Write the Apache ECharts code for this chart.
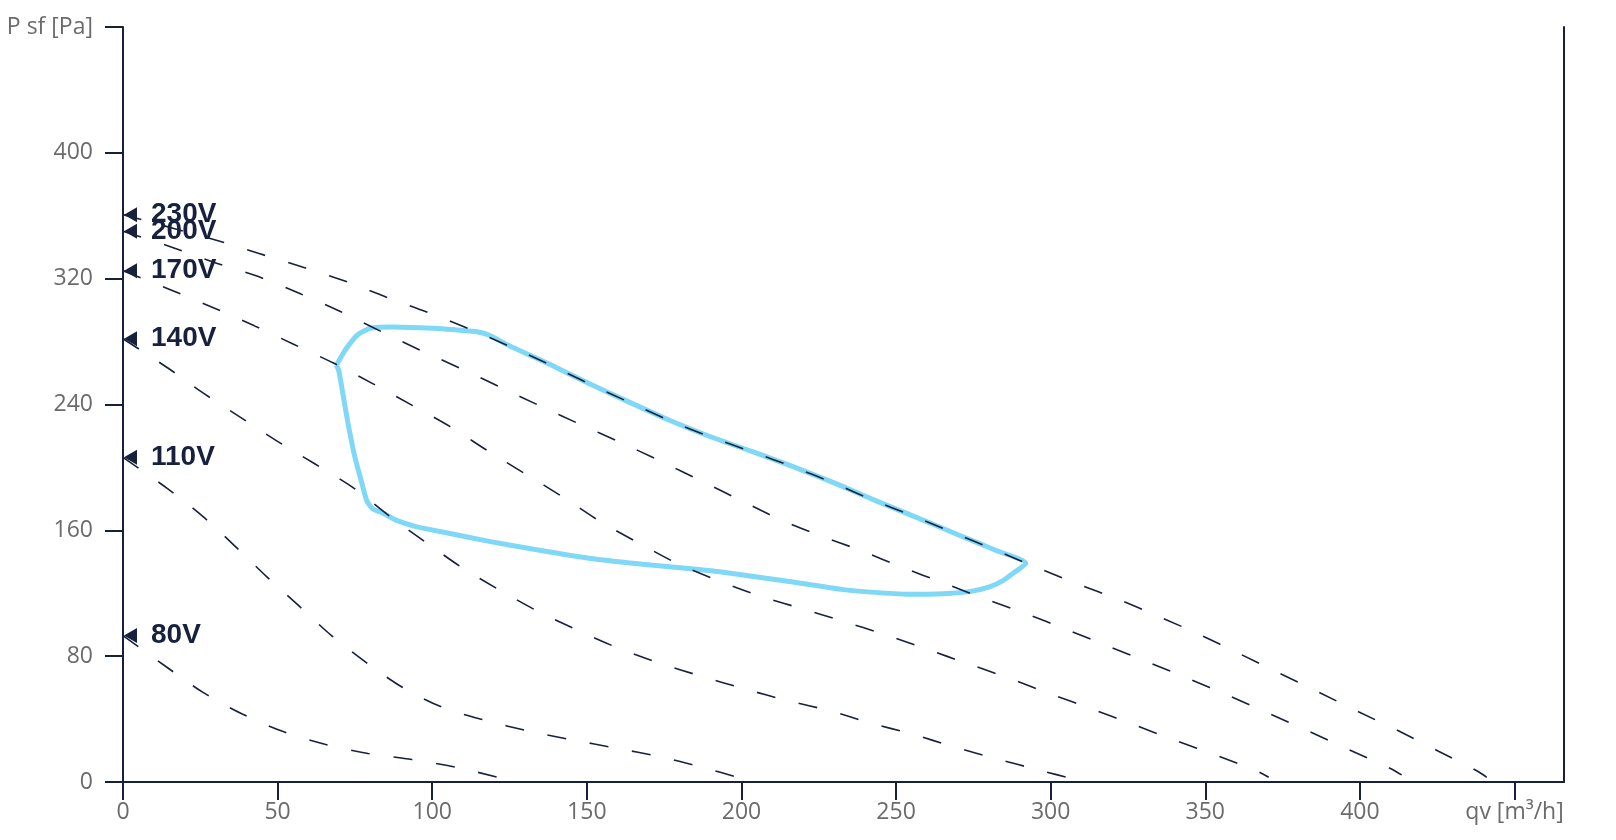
<!DOCTYPE html>
<html>
<head>
<meta charset="utf-8">
<script src="https://cdn.jsdelivr.net/npm/echarts@6/dist/echarts.min.js"></script>
<style>
html,body{margin:0;padding:0;background:#fff;}
#chart{width:1616px;height:840px;}
</style>
</head>
<body>
<div id="chart"></div>
<script>
// ---- data ----
const xTickValues = [0, 50, 100, 150, 200, 250, 300, 350, 400, 450];
const yTickValues = [0, 80, 160, 240, 320, 400, 480];
const xAxisTitle = 'qv [m³/h]';
const yAxisTitle = 'P sf [Pa]';

const voltLabels = ['230V', '200V', '170V', '140V', '110V', '80V'];

const curve230 = [[0,360.7],[31,344],[44,336],[58,327.4],[72,318.3],[85,308.4],[98,299],[112,288],[124.4,277.5],[137.5,265.8],[150.5,253.4],[163.7,241.4],[176.7,229.8],[190,219.3],[203.6,209.8],[216.7,200.3],[230.2,189.8],[241.5,180],[255,169.5],[268.5,158.5],[282,147.5],[295,136.8],[308.4,126.2],[321.6,116.3],[335.2,105],[348.2,93.7],[361,81.6],[373.8,69.3],[386.6,57.2],[399.7,44.5],[412.6,32.4],[425.4,19.6],[438.2,6.7],[441,3]];
const curve200 = [[0,350.1],[16.7,339.4],[30.5,329.7],[43.8,321.3],[57.2,310.5],[70.3,299.1],[83.4,286.5],[96,274.6],[109.1,263],[122,251],[135,239],[147.8,227.4],[160.8,216],[173.8,204],[186.7,191.7],[199.3,179.5],[212.7,166.7],[226,156.2],[238.3,147.4],[251.5,136.8],[264.9,126.9],[278.4,116.7],[291.9,107.1],[304.9,97.1],[318.4,86.5],[331.4,76.3],[344.6,65.7],[357.8,54.7],[370.8,43.4],[383.5,32.2],[396.5,20.5],[409.7,8.8],[413.5,4.5]];
const curve170 = [[0,325.1],[16.3,312.2],[29.6,301.2],[42.5,290],[55.5,278],[68.2,266.2],[80.9,253.1],[93.4,239.6],[105.8,225.9],[118,210.5],[130,196],[142.4,181],[154.6,165.3],[167.1,151.6],[179.5,138.7],[193.3,127.4],[206.6,117.9],[220,109.9],[232,102.7],[246.7,93.5],[260,84.4],[273.5,75],[286.9,65.7],[300.3,55.7],[313.7,46.2],[326.9,36.4],[340.4,26.4],[353.7,16.9],[367,6.7],[370.5,3]];
const curve140 = [[0,281.8],[14.5,263.2],[26,247.2],[38,231.8],[50.1,216.4],[62,202.3],[74.3,187.3],[86.2,169],[97.5,153],[109.4,136.6],[121.7,122.1],[134.1,108.6],[147.1,96.4],[160.2,85.1],[173.7,75.4],[187.1,67.2],[201,59.2],[214.8,51.8],[228.9,45.1],[241.3,37.7],[255.1,30.5],[268.7,22.4],[282.6,14.7],[296.4,7.5],[309,1]];
const curve110 = [[0,206.4],[14.4,186.5],[25.7,169],[36.2,150],[46.6,130.3],[57.1,111.6],[67.6,92.8],[78.9,75.6],[90.7,59.8],[103.4,47.4],[117.2,39.2],[131.1,32.4],[145,26.9],[159,21.7],[173.2,16.2],[187.1,9.5],[200.3,2.1],[202,1]];
const curve80 = [[0,93.1],[14.3,72.8],[26,56.8],[38.4,43.4],[51.6,32.2],[65.3,24],[79.2,18.1],[93.4,14.3],[107.5,9.5],[121.4,2.9],[124,1.5]];

const envelope = [[69,265],[72,275],[76,284.5],[80,288.5],[87,289.3],[96,288.8],[103,288.2],[109,287.2],[114.5,286.2],[118.5,284],[124.4,277.8],[137.5,266],[150.5,253.5],[163.7,241.5],[176.7,230],[190,219.5],[203.6,210],[216.7,200.5],[230.2,190],[242,180],[255,169.5],[268.5,158.5],[282,147.5],[292,139],[288.4,133.5],[284.7,128.2],[280.2,124],[274.2,121.2],[265.2,119.7],[254.8,119.3],[244.3,120.4],[233,122.3],[223,125.3],[208,129.5],[193,133.7],[182.7,135.8],[170.7,137.9],[151.3,142.1],[133.3,147.8],[118.4,153],[103.4,158.9],[94.5,162.5],[88.5,166.3],[84,171],[80.7,173.7],[78.8,179],[77.3,189.6],[75,206.5],[72.8,227.6],[71.3,244.5],[69.8,261.4],[69,265]];

const curves = [curve230, curve200, curve170, curve140, curve110, curve80];

// ---- chart ----
const NAVY = '#17213d';
const GREY = '#6b6b6b';
const chart = echarts.init(document.getElementById('chart'), null, {renderer: 'canvas'});

const series = [];
series.push({
  type: 'line',
  data: envelope,
  showSymbol: false,
  smooth: 0.2,
  lineStyle: {color: '#80d8f7', width: 5},
  z: 2,
  silent: true
});
curves.forEach(function (c, i) {
  series.push({
    type: 'line',
    name: voltLabels[i],
    data: c,
    showSymbol: false,
    smooth: 0.3,
    lineStyle: {color: NAVY, width: 1.6, type: [19, 24]},
    z: 3,
    silent: true
  });
});
series.push({
  type: 'scatter',
  data: curves.map(function (c, i) { return [0, c[0][1], voltLabels[i]]; }),
  symbol: 'triangle',
  symbolSize: [15, 13],
  symbolRotate: 90,
  symbolOffset: [7.5, 0],
  itemStyle: {color: NAVY, opacity: 1},
  label: {
    show: true,
    position: 'right',
    distance: 14,
    formatter: function (p) { return p.data[2]; },
    color: NAVY,
    fontFamily: 'Liberation Sans, Arial, sans-serif',
    fontWeight: 'bold',
    fontSize: 28
  },
  z: 5,
  silent: true
});

chart.setOption({
  animation: false,
  backgroundColor: '#ffffff',
  grid: {left: 123, right: 52, top: 27, bottom: 58, containLabel: false},
  xAxis: {
    type: 'value',
    min: 0,
    max: 466,
    interval: 50,
    axisLine: {show: true, lineStyle: {color: NAVY, width: 2}},
    axisTick: {show: true, length: 18, customValues: xTickValues, lineStyle: {color: NAVY, width: 2}},
    axisLabel: {
      customValues: xTickValues,
      margin: 19,
      color: GREY,
      fontFamily: 'Open Sans, Noto Sans, sans-serif',
      fontSize: 23,
      formatter: function (v) { return v === 450 ? xAxisTitle : String(v); }
    },
    splitLine: {show: false}
  },
  yAxis: [{
    type: 'value',
    min: 0,
    max: 480,
    interval: 80,
    axisLine: {show: true, lineStyle: {color: NAVY, width: 2}},
    axisTick: {show: true, length: 18, customValues: yTickValues, lineStyle: {color: NAVY, width: 2}},
    axisLabel: {
      customValues: yTickValues,
      margin: 30,
      color: GREY,
      fontFamily: 'Open Sans, Noto Sans, sans-serif',
      fontSize: 23,
      formatter: function (v) { return v === 480 ? yAxisTitle : String(v); }
    },
    splitLine: {show: false}
  }, {
    type: 'value',
    position: 'right',
    min: 0,
    max: 480,
    axisLine: {show: true, lineStyle: {color: NAVY, width: 2}},
    axisTick: {show: false},
    axisLabel: {show: false},
    splitLine: {show: false}
  }],
  series: series
});
</script>
</body>
</html>
